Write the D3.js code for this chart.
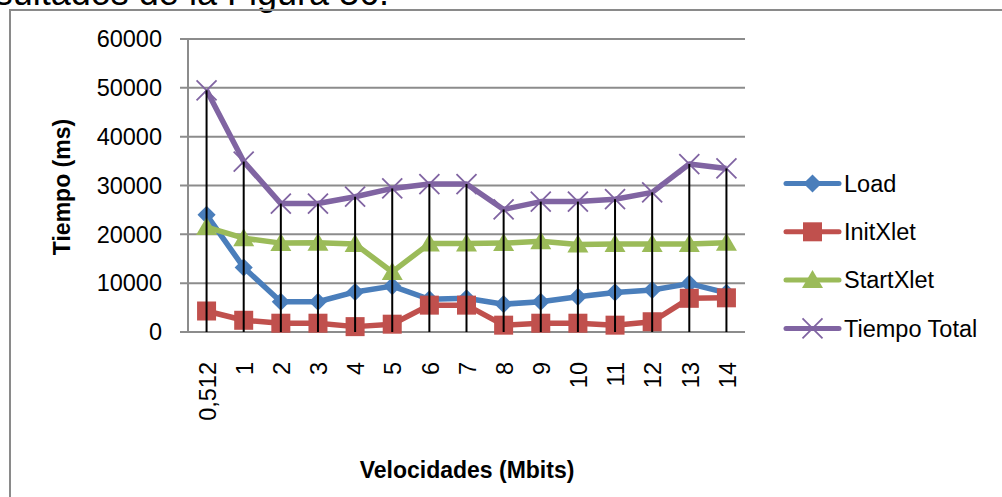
<!DOCTYPE html>
<html><head><meta charset="utf-8">
<script src="https://cdn.jsdelivr.net/npm/d3@7"></script>
<style>body{margin:0;background:#fff}svg{display:block}text{font-family:"Liberation Sans",Arial,sans-serif}</style>
</head><body>
<svg id="c" width="1002" height="497"></svg>
<script>
const categories = ["0,512","1","2","3","4","5","6","7","8","9","10","11","12","13","14"];
const load       = [24000,13200,6200,6200,8200,9400,6700,6900,5700,6200,7200,8100,8600,9900,8000];
const initXlet   = [4300,2400,1800,1800,1100,1600,5500,5500,1400,1800,1800,1400,2100,6900,7000];
const startXlet  = [21500,19200,18200,18300,18000,12300,18100,18100,18200,18600,17900,18000,18000,18000,18300];
const tiempoTotal= [49500,34900,26300,26300,27700,29400,30300,30300,25100,26700,26700,27200,28600,34400,33500];
const yTicks = [0,10000,20000,30000,40000,50000,60000];
const seriesNames = ["Load","InitXlet","StartXlet","Tiempo Total"];

const svg = d3.select("#c");
const colors = {"Load":"#4a7ebb","InitXlet":"#c0504d","StartXlet":"#9bbb59","Tiempo Total":"#8064a2"};
const shapes = {"Load":"diamond","InitXlet":"square","StartXlet":"triangle","Tiempo Total":"x"};
const series = [
  {name:"Load", values:load},
  {name:"InitXlet", values:initXlet},
  {name:"StartXlet", values:startXlet},
  {name:"Tiempo Total", values:tiempoTotal}
];

// caption fragment (cut off at the top in the reference too) and chart border
svg.append("text").attr("x",389).attr("y",5).attr("text-anchor","end")
  .attr("font-size",36).attr("fill","#000").text("resultados de la Figura 36.");
svg.append("path").attr("d","M10,510 L10,10 L1010,10").attr("fill","none")
  .attr("stroke","#8a8a8a").attr("stroke-width",2);

const x = d3.scaleBand().domain(categories).range([188,745]);
const y = d3.scaleLinear().domain([0,60000]).range([332,39]);
const cx = c => x(c) + x.bandwidth()/2;

// gridlines
svg.append("g").selectAll("line").data(yTicks).join("line")
  .attr("x1",180).attr("x2",745).attr("y1",d=>y(d)).attr("y2",d=>y(d))
  .attr("stroke","#8c8c8c").attr("stroke-width",2);
// y axis line
svg.append("line").attr("x1",188).attr("x2",188).attr("y1",y(60000)).attr("y2",y(0))
  .attr("stroke","#8c8c8c").attr("stroke-width",2);
// y tick labels
svg.append("g").selectAll("text").data(yTicks).join("text")
  .attr("x",162).attr("y",d=>y(d)).attr("dy","0.35em").attr("text-anchor","end")
  .attr("font-size",23.5).attr("fill","#000").text(d=>d);
// x tick labels
svg.append("g").selectAll("text").data(categories).join("text")
  .attr("transform",d=>`translate(${cx(d)+1},362) rotate(-90)`)
  .attr("dy","0.35em").attr("text-anchor","end")
  .attr("font-size",23.5).attr("fill","#000").text(d=>d);
// axis titles
svg.append("text").attr("transform","translate(62,187) rotate(-90)").attr("dy","0.35em")
  .attr("text-anchor","middle").attr("font-size",23).attr("font-weight","bold").text("Tiempo (ms)");
svg.append("text").attr("x",467).attr("y",470).attr("dy","0.35em")
  .attr("text-anchor","middle").attr("font-size",23).attr("font-weight","bold").text("Velocidades (Mbits)");

function marker(g, shape, color, px, py){
  if(shape==="diamond"){
    g.append("path").attr("d",d3.symbol(d3.symbolDiamond2,210)()).attr("transform",`translate(${px},${py})`).attr("fill",color);
  } else if(shape==="square"){
    g.append("rect").attr("x",px-9.5).attr("y",py-9.5).attr("width",19).attr("height",19).attr("fill",color);
  } else if(shape==="triangle"){
    g.append("path").attr("d",`M${px},${py-10} L${px+10.5},${py+8} L${px-10.5},${py+8} Z`).attr("fill",color);
  } else {
    g.append("path").attr("d",`M${px-10},${py-10} L${px+10},${py+10} M${px-10},${py+10} L${px+10},${py-10}`)
      .attr("stroke",color).attr("stroke-width",1.8).attr("fill","none");
  }
}

const line = d3.line().x((d,i)=>cx(categories[i])).y(d=>y(d));
series.forEach(s=>{
  const g = svg.append("g");
  g.append("path").datum(s.values).attr("d",line).attr("fill","none")
    .attr("stroke",colors[s.name]).attr("stroke-width",5.5).attr("stroke-linejoin","round");
  s.values.forEach((v,i)=>marker(g, shapes[s.name], colors[s.name], cx(categories[i]), y(v)));
});

// drop lines
svg.append("g").selectAll("line").data(tiempoTotal).join("line")
  .attr("x1",(d,i)=>cx(categories[i])).attr("x2",(d,i)=>cx(categories[i]))
  .attr("y1",d=>y(d)).attr("y2",y(0)).attr("stroke","#000").attr("stroke-width",2);

// legend
const lg = svg.append("g");
seriesNames.forEach((n,i)=>{
  const ly = 183.5 + i*48.3;
  lg.append("line").attr("x1",786).attr("x2",839).attr("y1",ly).attr("y2",ly)
    .attr("stroke",colors[n]).attr("stroke-width",5).attr("stroke-linecap","round");
  marker(lg, shapes[n], colors[n], 812.5, ly);
  lg.append("text").attr("x",844).attr("y",ly).attr("dy","0.35em")
    .attr("font-size",23.5).attr("fill","#000").text(n);
});
</script>
</body></html>
